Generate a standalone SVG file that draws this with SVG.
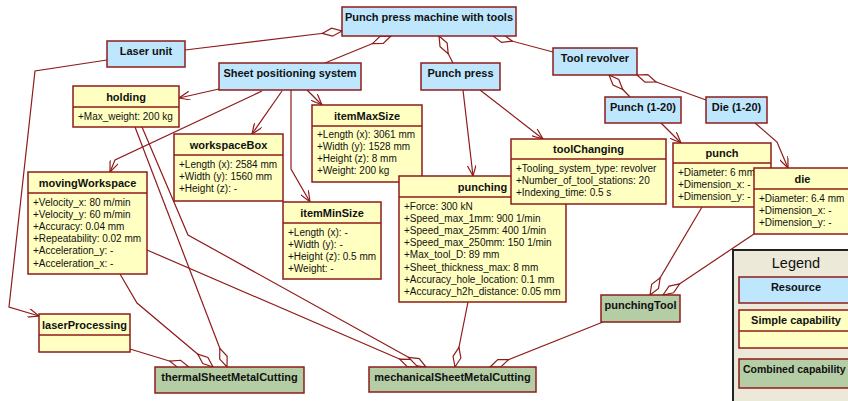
<svg xmlns="http://www.w3.org/2000/svg" width="848" height="401" viewBox="0 0 848 401">
<style>
.res rect{fill:#BEE7FD;stroke:#8F1B1B;stroke-width:1.5}
.cap rect{fill:#FFFFC1;stroke:#8F1B1B;stroke-width:1.5}
.comb rect{fill:#B4CDA5;stroke:#8F1B1B;stroke-width:1.5}
.div{stroke:#8F1B1B;stroke-width:1.5}
.t{font-family:"Liberation Sans",Arial,sans-serif;font-size:11px;font-weight:bold;text-anchor:middle;fill:#111}
.a{font-family:"Liberation Sans",Arial,sans-serif;font-size:10px;fill:#111}
#connectors path{fill:none;stroke:#8F1B1B;stroke-width:1.2}
.arr{marker-end:url(#arr)}
.agg{marker-end:url(#dia)}
</style>
<defs>
<marker id="arr" viewBox="0 0 12 9" refX="11" refY="4.5" markerWidth="12" markerHeight="9" markerUnits="userSpaceOnUse" orient="auto"><path d="M0,0 L11,4.5 L0,9" fill="none" stroke="#8F1B1B" stroke-width="1.2"/></marker>
<marker id="dia" viewBox="-1 -5 22 10" refX="20" refY="0" markerWidth="22" markerHeight="10" markerUnits="userSpaceOnUse" orient="auto"><path d="M0,0 L10,-4 L20,0 L10,4 Z" fill="#fff" stroke="#8F1B1B" stroke-width="1.2"/></marker>
</defs>
<rect width="848" height="401" fill="#fff"/>
<g id="connectors">
<path class="arr" d="M107,60 L35,71 L9,307 L39,316"/>
<path class="arr" d="M219,89 L179,98"/>
<path class="arr" d="M262,91 L115,160 L110,172"/>
<path class="arr" d="M282,91 L252,134"/>
<path class="arr" d="M307,90 L322,105"/>
<path class="arr" d="M291,90 L291,169 L310,202"/>
<path class="arr" d="M463,90 L473,176"/>
<path class="arr" d="M480,90 L543,139"/>
<path class="arr" d="M661,123 L681,143"/>
<path class="arr" d="M755,123 L777,142 L788,168"/>
<path class="agg" d="M185,50 L342,31"/>
<path class="agg" d="M325,63 L391,36"/>
<path class="agg" d="M453,63 L439,36"/>
<path class="agg" d="M553,52 L493,36"/>
<path class="agg" d="M630,97 L609,75"/>
<path class="agg" d="M706,100 L637,75"/>
<path class="agg" d="M130,349 L189,367"/>
<path class="agg" d="M120,274 L137,303 L213,367"/>
<path class="agg" d="M135,127 L227,367"/>
<path class="agg" d="M142,127 L188,235 L426,367"/>
<path class="agg" d="M147,250 L418,367"/>
<path class="agg" d="M468,302 L455,367"/>
<path class="agg" d="M603,322 L490,367"/>
<path class="agg" d="M702,207 L650,295"/>
<path class="agg" d="M754,234 L663,295"/>
</g>
<g id="machine" class="res"><rect x="342" y="7" width="174" height="29"/><text class="t" x="429" y="21">Punch press machine with tools</text></g>
<g id="laserUnit" class="res"><rect x="107" y="41" width="78" height="26"/><text class="t" x="146" y="55">Laser unit</text></g>
<g id="sheetPositioning" class="res"><rect x="219" y="63" width="142" height="27"/><text class="t" x="290" y="77">Sheet positioning system</text></g>
<g id="punchPress" class="res"><rect x="421" y="63" width="79" height="27"/><text class="t" x="460.5" y="77">Punch press</text></g>
<g id="toolRevolver" class="res"><rect x="553" y="48" width="84" height="27"/><text class="t" x="595" y="62">Tool revolver</text></g>
<g id="punch120" class="res"><rect x="605" y="97" width="76" height="26"/><text class="t" x="643" y="111">Punch (1-20)</text></g>
<g id="die120" class="res"><rect x="706" y="97" width="61" height="26"/><text class="t" x="736.5" y="111">Die (1-20)</text></g>
<g id="holding" class="cap"><rect x="73" y="86" width="106" height="41"/><line class="div" x1="73" y1="107" x2="179" y2="107"/><text class="t" x="126" y="100.5">holding</text><text class="a" x="78" y="120">+Max_weight: 200 kg</text></g>
<g id="itemMaxSize" class="cap"><rect x="312" y="105" width="110" height="77"/><line class="div" x1="312" y1="126" x2="422" y2="126"/><text class="t" x="367" y="119.5">itemMaxSize</text>
<text class="a" x="317" y="138">+Length (x): 3061 mm</text><text class="a" x="317" y="150">+Width (y): 1528 mm</text><text class="a" x="317" y="162">+Height (z): 8 mm</text><text class="a" x="317" y="174">+Weight: 200 kg</text></g>
<g id="workspaceBox" class="cap"><rect x="174" y="134" width="109" height="67"/><line class="div" x1="174" y1="155" x2="283" y2="155"/><text class="t" x="228.5" y="148.5">workspaceBox</text>
<text class="a" x="179" y="167.5">+Length (x): 2584 mm</text><text class="a" x="179" y="179.7">+Width (y): 1560 mm</text><text class="a" x="179" y="191.9">+Height (z): -</text></g>
<g id="movingWorkspace" class="cap"><rect x="28" y="172" width="119" height="102"/><line class="div" x1="28" y1="193" x2="147" y2="193"/><text class="t" x="87.5" y="186.5">movingWorkspace</text>
<text class="a" x="33" y="205.5">+Velocity_x: 80 m/min</text><text class="a" x="33" y="217.7">+Velocity_y: 60 m/min</text><text class="a" x="33" y="229.9">+Accuracy: 0.04 mm</text><text class="a" x="33" y="242.1">+Repeatability: 0.02 mm</text><text class="a" x="33" y="254.3">+Acceleration_y: -</text><text class="a" x="33" y="266.5">+Acceleration_x: -</text></g>
<g id="itemMinSize" class="cap"><rect x="283" y="202" width="98" height="77"/><line class="div" x1="283" y1="223" x2="381" y2="223"/><text class="t" x="332" y="216.5">itemMinSize</text>
<text class="a" x="288" y="235.5">+Length (x): -</text><text class="a" x="288" y="247.7">+Width (y): -</text><text class="a" x="288" y="259.9">+Height (z): 0.5 mm</text><text class="a" x="288" y="272.1">+Weight: -</text></g>
<g id="punching" class="cap"><rect x="399" y="176" width="167" height="126"/><line class="div" x1="399" y1="197" x2="566" y2="197"/><text class="t" x="482.5" y="190.5">punching</text>
<text class="a" x="404" y="209.5">+Force: 300 kN</text><text class="a" x="404" y="221.7">+Speed_max_1mm: 900 1/min</text><text class="a" x="404" y="233.9">+Speed_max_25mm: 400 1/min</text><text class="a" x="404" y="246.1">+Speed_max_250mm: 150 1/min</text><text class="a" x="404" y="258.3">+Max_tool_D: 89 mm</text><text class="a" x="404" y="270.5">+Sheet_thickness_max: 8 mm</text><text class="a" x="404" y="282.7">+Accuracy_hole_location: 0.1 mm</text><text class="a" x="404" y="294.9">+Accuracy_h2h_distance: 0.05 mm</text></g>
<g id="toolChanging" class="cap"><rect x="511" y="139" width="155" height="65"/><line class="div" x1="511" y1="159" x2="666" y2="159"/><text class="t" x="588.5" y="152.5">toolChanging</text>
<text class="a" x="516" y="171.5">+Tooling_system_type: revolver</text><text class="a" x="516" y="183.7">+Number_of_tool_stations: 20</text><text class="a" x="516" y="195.9">+Indexing_time: 0.5 s</text></g>
<g id="punch" class="cap"><rect x="673" y="143" width="98" height="64"/><line class="div" x1="673" y1="163" x2="771" y2="163"/><text class="t" x="722" y="156.5">punch</text>
<text class="a" x="678" y="175.5">+Diameter: 6 mm</text><text class="a" x="678" y="187.7">+Dimension_x: -</text><text class="a" x="678" y="199.9">+Dimension_y: -</text></g>
<g id="die" class="cap"><rect x="754" y="168" width="97" height="66"/><line class="div" x1="754" y1="189" x2="851" y2="189"/><text class="t" x="802.5" y="182.5">die</text>
<text class="a" x="759" y="201.5">+Diameter: 6.4 mm</text><text class="a" x="759" y="213.7">+Dimension_x: -</text><text class="a" x="759" y="225.9">+Dimension_y: -</text></g>
<g id="laserProcessing" class="cap"><rect x="39" y="314" width="91" height="38"/><line class="div" x1="39" y1="335" x2="130" y2="335"/><text class="t" x="84.5" y="328.5">laserProcessing</text></g>
<g id="thermalSheetMetalCutting" class="comb"><rect x="155" y="367" width="149" height="26"/><text class="t" x="229.5" y="381">thermalSheetMetalCutting</text></g>
<g id="mechanicalSheetMetalCutting" class="comb"><rect x="369" y="367" width="167" height="25"/><text class="t" x="452.5" y="381">mechanicalSheetMetalCutting</text></g>
<g id="punchingTool" class="comb"><rect x="601" y="295" width="79" height="27"/><text class="t" x="640.5" y="309">punchingTool</text></g>
<g id="legend">
<rect x="733" y="250" width="130" height="160" fill="#ECE9D8" stroke="#222" stroke-width="2"/>
<text x="796" y="268" font-family="Liberation Sans, Arial, sans-serif" font-size="14.5" text-anchor="middle" fill="#111">Legend</text>
<g class="res"><rect x="739" y="277" width="114" height="26"/><text class="t" x="796" y="291">Resource</text></g>
<g class="cap"><rect x="739" y="310" width="114" height="38"/><line class="div" x1="739" y1="331" x2="853" y2="331"/><text class="t" x="796" y="324">Simple capability</text></g>
<g class="comb"><rect x="739" y="359" width="114" height="29"/><text class="t" x="743" y="373" style="text-anchor:start;font-size:10.5px">Combined capability</text></g>
</g>
</svg>
